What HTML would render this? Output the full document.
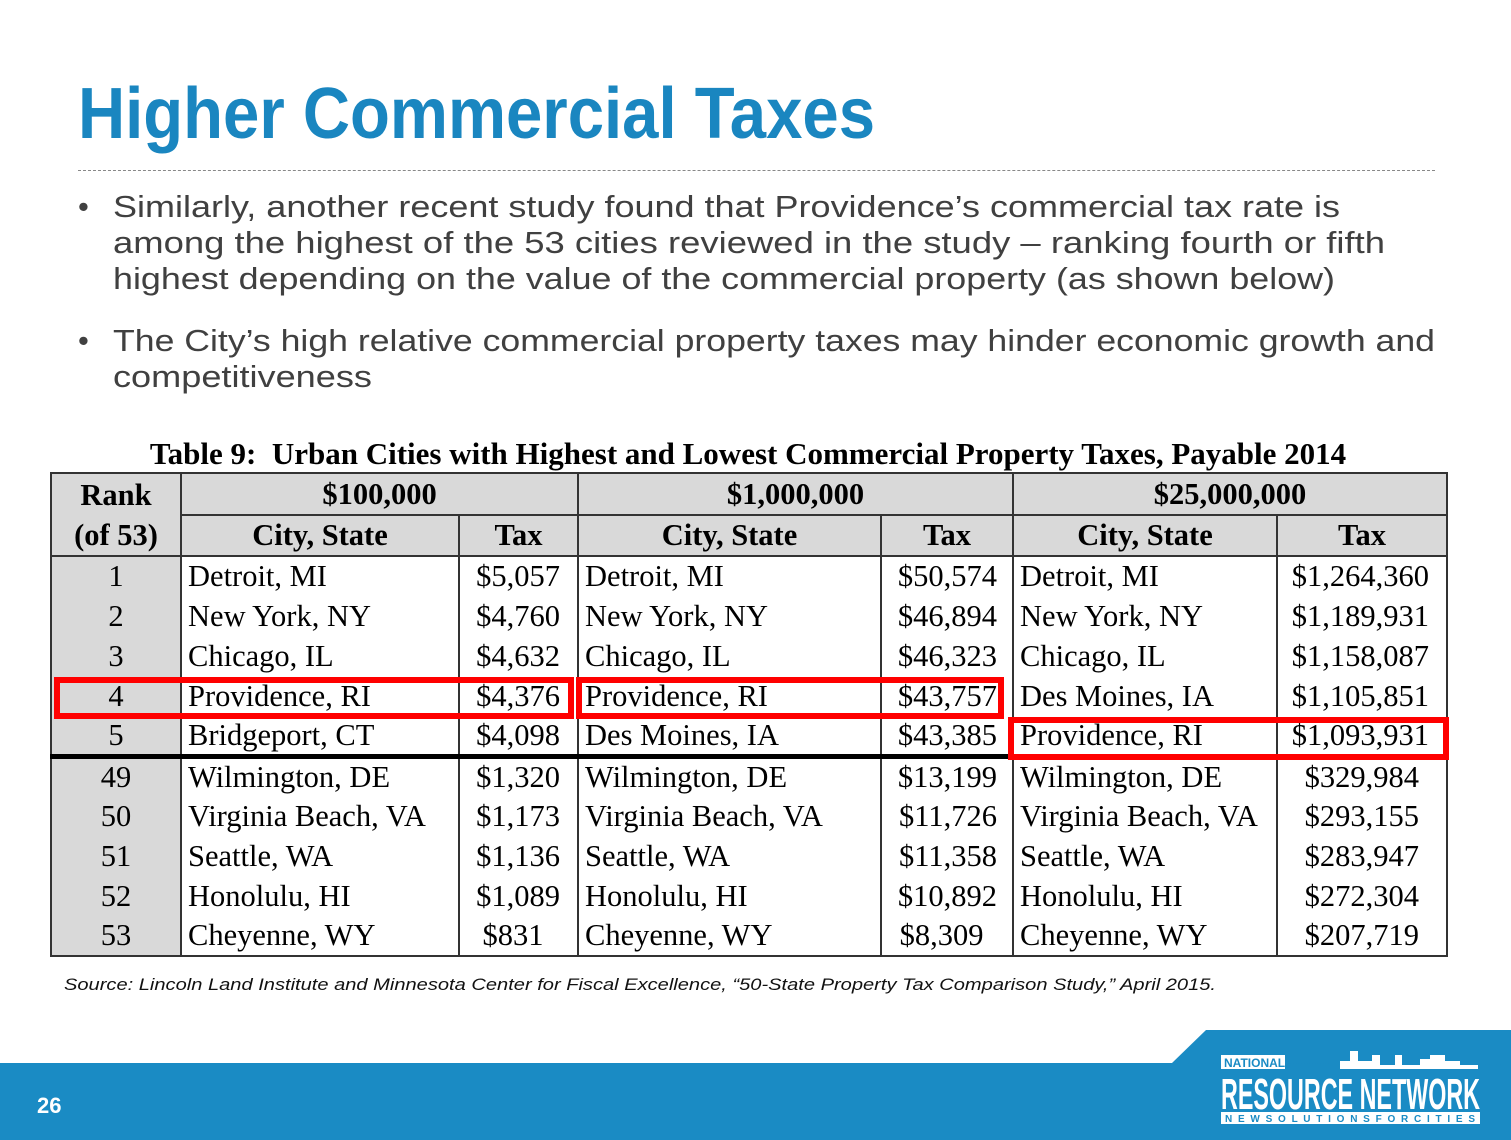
<!DOCTYPE html>
<html><head><meta charset="utf-8"><style>
*{margin:0;padding:0;box-sizing:border-box}
body{width:1511px;height:1140px;position:relative;background:#fff;overflow:hidden;font-family:"Liberation Sans",sans-serif}
.a{position:absolute}
.dash{left:78px;top:170px;width:1357px;border-top:1px dashed #888}
.cap{left:50px;width:1396px;top:436px;text-align:center;font-family:"Liberation Serif",serif;font-weight:bold;font-size:31px;color:#000;white-space:nowrap}
table{position:absolute;left:50px;top:472px;border-collapse:collapse;font-family:"Liberation Serif",serif;font-size:30.5px;color:#000;line-height:1}
td{border-left:2px solid #333;border-right:2px solid #333;padding:0 6px;height:40px;white-space:nowrap}
.h td{background:#d9d9d9;font-weight:bold;text-align:center;border:2px solid #333}
.r{background:#d9d9d9;text-align:center}
.t{text-align:right;padding-right:17px}
.c{text-align:right;padding-right:27px}
.rb{border:6px solid #f00;position:absolute}
.foot{left:0;top:1063px;width:1511px;height:77px;background:#1a8bc4}
</style></head><body>
<svg class="a" style="left:0;top:0" width="1511" height="1000">
<text x="78" y="138" font-family="Liberation Sans" font-weight="bold" font-size="72" fill="#1a86c0" textLength="797" lengthAdjust="spacingAndGlyphs">Higher Commercial Taxes</text>
<g font-family="Liberation Sans" font-size="31" fill="#404040">
<text x="78" y="217">•</text>
<text x="113" y="217" textLength="1227" lengthAdjust="spacingAndGlyphs">Similarly, another recent study found that Providence’s commercial tax rate is</text>
<text x="113" y="253" textLength="1272" lengthAdjust="spacingAndGlyphs">among the highest of the 53 cities reviewed in the study – ranking fourth or fifth</text>
<text x="113" y="289" textLength="1222" lengthAdjust="spacingAndGlyphs">highest depending on the value of the commercial property (as shown below)</text>
<text x="78" y="351">•</text>
<text x="113" y="351" textLength="1322" lengthAdjust="spacingAndGlyphs">The City’s high relative commercial property taxes may hinder economic growth and</text>
<text x="113" y="387" textLength="259" lengthAdjust="spacingAndGlyphs">competitiveness</text>
</g>
<text x="64" y="990" font-family="Liberation Sans" font-style="italic" font-size="17" fill="#111" textLength="1152" lengthAdjust="spacingAndGlyphs">Source: Lincoln Land Institute and Minnesota Center for Fiscal Excellence, “50-State Property Tax Comparison Study,” April 2015.</text>
</svg>
<div class="a dash"></div>
<div class="a cap">Table 9:&nbsp; Urban Cities with Highest and Lowest Commercial Property Taxes, Payable 2014</div>
<table>
<colgroup><col style="width:130px"><col style="width:278px"><col style="width:119px"><col style="width:303px"><col style="width:132px"><col style="width:264px"><col style="width:170px"></colgroup>
<tr class="h" style="height:42px"><td rowspan="2" style="line-height:40px">Rank<br>(of 53)</td><td colspan="2">$100,000</td><td colspan="2">$1,000,000</td><td colspan="2">$25,000,000</td></tr>
<tr class="h" style="height:41px"><td>City, State</td><td>Tax</td><td>City, State</td><td>Tax</td><td>City, State</td><td>Tax</td></tr>
<tr><td class="r">1</td><td>Detroit, MI</td><td class="t">$5,057</td><td>Detroit, MI</td><td class="t" style="padding-right:15px">$50,574</td><td>Detroit, MI</td><td class="t">$1,264,360</td></tr>
<tr><td class="r">2</td><td>New York, NY</td><td class="t">$4,760</td><td>New York, NY</td><td class="t" style="padding-right:15px">$46,894</td><td>New York, NY</td><td class="t">$1,189,931</td></tr>
<tr><td class="r">3</td><td>Chicago, IL</td><td class="t">$4,632</td><td>Chicago, IL</td><td class="t" style="padding-right:15px">$46,323</td><td>Chicago, IL</td><td class="t">$1,158,087</td></tr>
<tr><td class="r">4</td><td>Providence, RI</td><td class="t">$4,376</td><td>Providence, RI</td><td class="t" style="padding-right:15px">$43,757</td><td>Des Moines, IA</td><td class="t">$1,105,851</td></tr>
<tr style="border-bottom:5px solid #000"><td class="r">5</td><td>Bridgeport, CT</td><td class="t">$4,098</td><td>Des Moines, IA</td><td class="t" style="padding-right:15px">$43,385</td><td>Providence, RI</td><td class="t">$1,093,931</td></tr>
<tr><td class="r">49</td><td>Wilmington, DE</td><td class="t">$1,320</td><td>Wilmington, DE</td><td class="t" style="padding-right:15px">$13,199</td><td>Wilmington, DE</td><td class="c">$329,984</td></tr>
<tr><td class="r">50</td><td>Virginia Beach, VA</td><td class="t">$1,173</td><td>Virginia Beach, VA</td><td class="t" style="padding-right:15px">$11,726</td><td>Virginia Beach, VA</td><td class="c">$293,155</td></tr>
<tr><td class="r">51</td><td>Seattle, WA</td><td class="t">$1,136</td><td>Seattle, WA</td><td class="t" style="padding-right:15px">$11,358</td><td>Seattle, WA</td><td class="c">$283,947</td></tr>
<tr><td class="r">52</td><td>Honolulu, HI</td><td class="t">$1,089</td><td>Honolulu, HI</td><td class="t" style="padding-right:15px">$10,892</td><td>Honolulu, HI</td><td class="c">$272,304</td></tr>
<tr style="border-bottom:2px solid #333"><td class="r">53</td><td>Cheyenne, WY</td><td class="t" style="text-align:center">$831</td><td>Cheyenne, WY</td><td class="t" style="text-align:center">$8,309</td><td>Cheyenne, WY</td><td class="c">$207,719</td></tr>
</table>
<div class="rb" style="left:54px;top:677px;width:520px;height:42px"></div>
<div class="rb" style="left:576px;top:677px;width:428px;height:42px"></div>
<div class="rb" style="left:1008px;top:717px;width:441px;height:43px"></div>
<div class="a foot"></div>
<svg class="a" style="left:0;top:1025px" width="1511" height="115"><polygon points="1172,38 1206,5 1511,5 1511,40" fill="#1a8bc4"/>
<rect x="1221" y="30" width="64" height="14" fill="#fff"/>
<text x="1224" y="42" font-family="Liberation Sans" font-weight="bold" font-size="12" fill="#1a8bc4">NATIONAL</text>
<path d="M1290 44 L1340 44 L1340 36 L1350 36 L1350 26 L1358 26 L1358 36 L1372 36 L1372 30 L1380 30 L1380 40 L1395 40 L1395 30 L1402 30 L1402 40 L1420 40 L1420 34 L1430 34 L1430 30 L1445 30 L1445 36 L1460 36 L1460 40 L1478 40 L1478 44Z" fill="#fff"/>
<text x="1221" y="84" font-family="Liberation Sans" font-weight="bold" font-size="44" fill="#fff" textLength="259" lengthAdjust="spacingAndGlyphs">RESOURCE NETWORK</text>
<rect x="1221" y="87" width="259" height="12" fill="#fff"/>
<text x="1225" y="97" font-family="Liberation Sans" font-weight="bold" font-size="10" fill="#1a8bc4" textLength="250" lengthAdjust="spacing">N E W   S O L U T I O N S   F O R   C I T I E S</text>
<text x="37" y="88" font-family="Liberation Sans" font-weight="bold" font-size="22" fill="#fff">26</text>
</svg>
</body></html>
